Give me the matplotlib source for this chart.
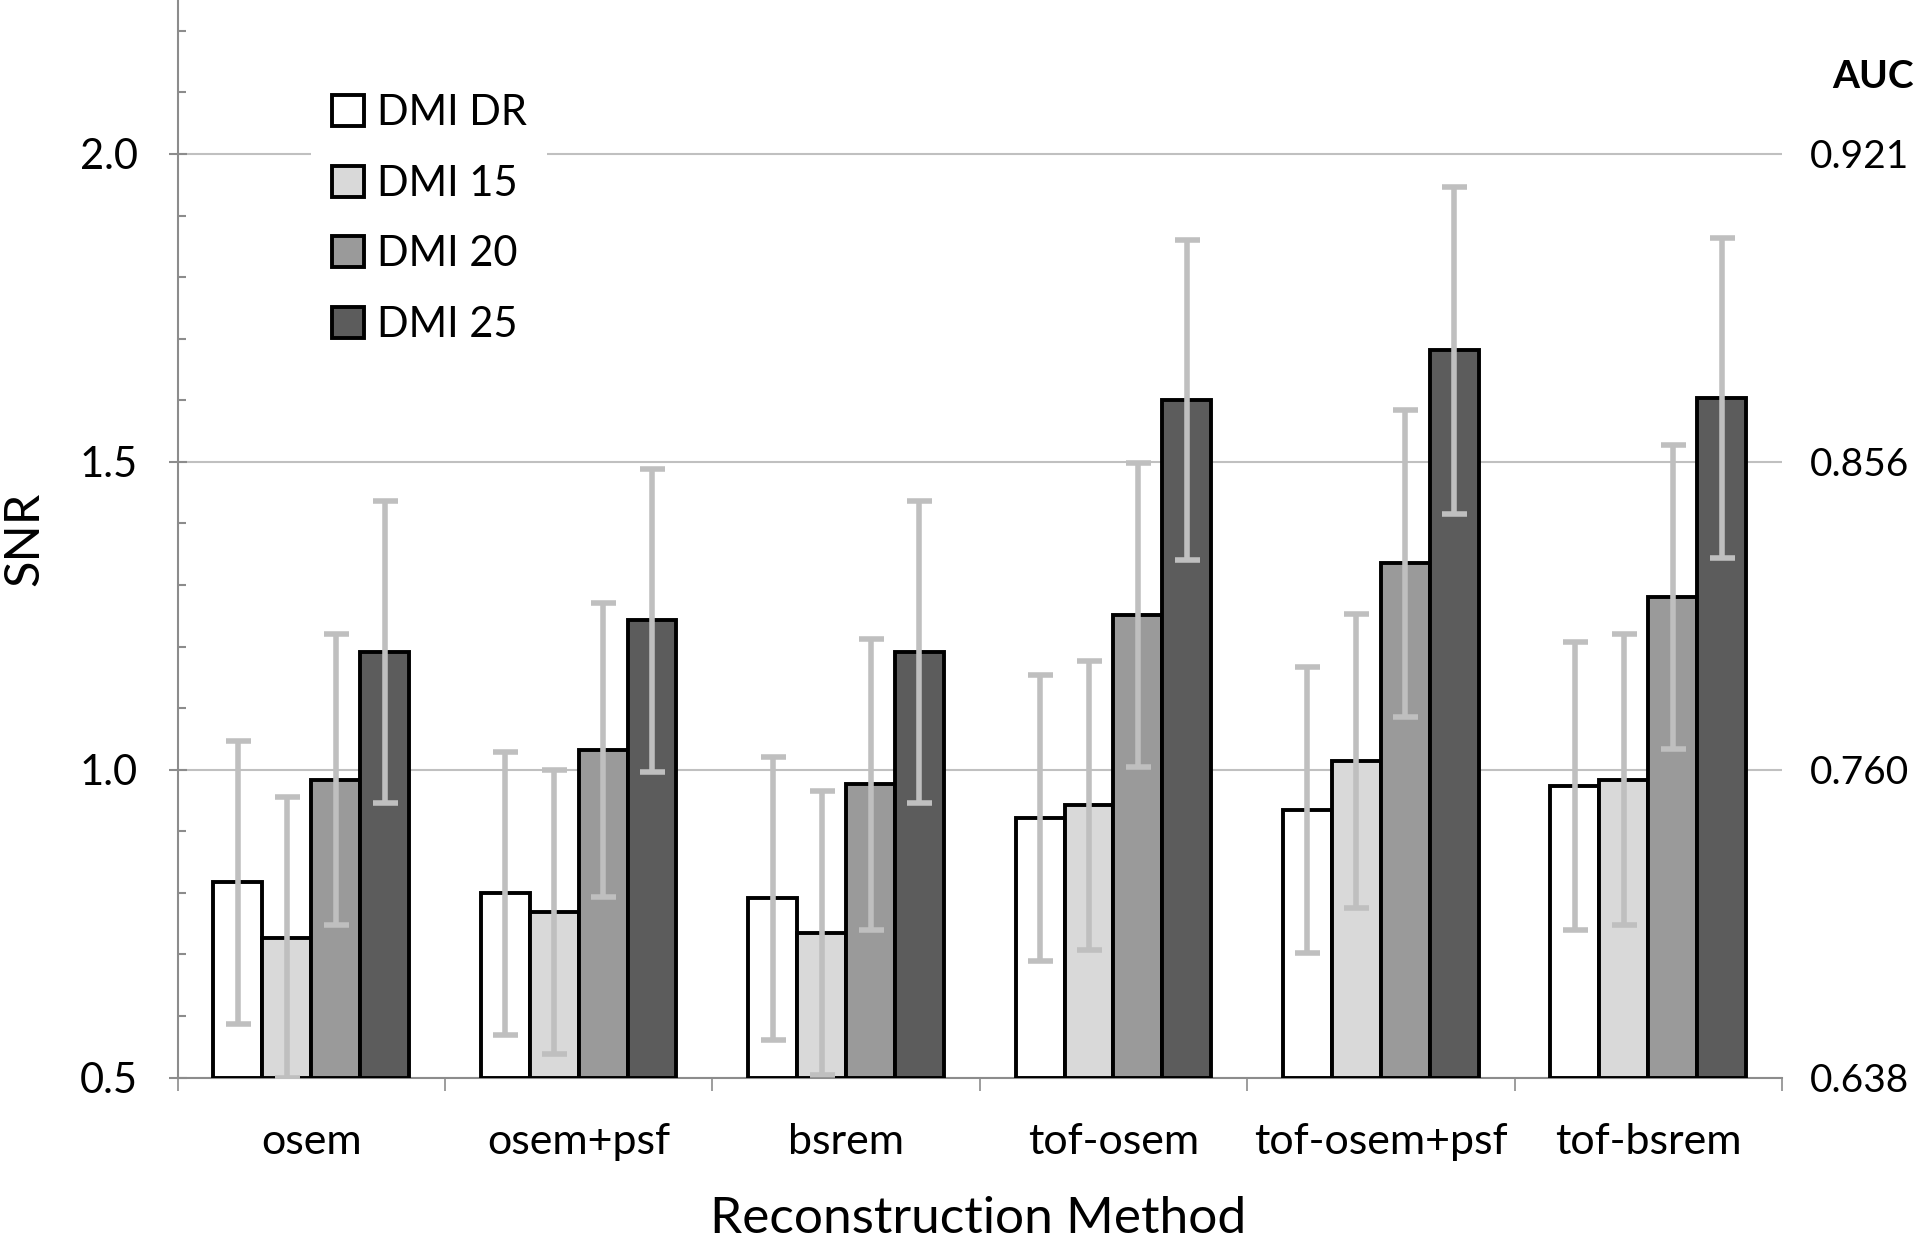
import matplotlib.pyplot as plt
import numpy as np
from matplotlib.ticker import MultipleLocator, FixedLocator

methods = ['osem', 'osem+psf', 'bsrem', 'tof-osem', 'tof-osem+psf', 'tof-bsrem']
series = ['DMI DR', 'DMI 15', 'DMI 20', 'DMI 25']

# SNR mean per method, one list per scanner setting
snr_dr = [0.817, 0.799, 0.791, 0.922, 0.934, 0.974]
snr_15 = [0.727, 0.769, 0.735, 0.942, 1.014, 0.984]
snr_20 = [0.984, 1.032, 0.976, 1.251, 1.335, 1.281]
snr_25 = [1.191, 1.243, 1.191, 1.600, 1.681, 1.604]

# error bar half-lengths
err_dr = [0.230, 0.230, 0.230, 0.232, 0.232, 0.234]
err_15 = [0.228, 0.231, 0.230, 0.235, 0.239, 0.236]
err_20 = [0.236, 0.238, 0.236, 0.247, 0.249, 0.247]
err_25 = [0.245, 0.246, 0.245, 0.260, 0.265, 0.260]

auc_ticks = [0.5, 1.0, 1.5, 2.0]
auc_labels = ['0.638', '0.760', '0.856', '0.921']

colors = ['#ffffff', '#d9d9d9', '#9a9a9a', '#5c5c5c']
err_color = '#bfbfbf'

plt.rcParams['font.family'] = ['Lato', 'DejaVu Sans']

fig = plt.figure(figsize=(19.2, 12.39), dpi=100)
ax = fig.add_axes([177.5 / 1920, 1 - 1077.6 / 1239, (1782 - 177.5) / 1920, 1077.6 / 1239])

x = np.arange(len(methods))
w = 0.183
vals = [snr_dr, snr_15, snr_20, snr_25]
errs = [err_dr, err_15, err_20, err_25]
for i in range(4):
    pos = x + (i - 1.5) * w
    ax.bar(pos, np.array(vals[i]) - 0.5, w, bottom=0.5, color=colors[i],
           edgecolor='black', linewidth=2.8, label=series[i], zorder=3)
    ax.errorbar(pos, vals[i], yerr=errs[i], fmt='none', ecolor=err_color,
                elinewidth=4, capsize=9, capthick=4, zorder=4)

ax.set_xlim(-0.5, 5.5)
ax.set_ylim(0.5, 2.25)

# y axis
ax.yaxis.set_major_locator(FixedLocator([0.5, 1.0, 1.5, 2.0]))
ax.yaxis.set_minor_locator(MultipleLocator(0.1))
ax.set_yticklabels(['0.5', '1.0', '1.5', '2.0'])
ax.tick_params(axis='y', which='major', direction='inout', length=13, width=1.5,
               color='#8c8c8c', labelsize=30, pad=22)
ax.tick_params(axis='y', which='minor', direction='in', length=6, width=1.5, color='#8c8c8c')
ax.grid(axis='y', which='major', color='#c0c0c0', linewidth=1.5, zorder=0)

# x axis: boundary ticks, labels at group centres
ax.xaxis.set_major_locator(FixedLocator(np.arange(-0.5, 6, 1.0)))
ax.xaxis.set_major_formatter(plt.NullFormatter())
ax.xaxis.set_minor_locator(FixedLocator(x))
ax.set_xticklabels(methods, minor=True)
ax.tick_params(axis='x', which='major', direction='out', length=9, width=1.2, color='#8c8c8c')
ax.tick_params(axis='x', which='minor', length=0, labelsize=31, pad=33)

for s in ['top', 'right']:
    ax.spines[s].set_visible(False)
for s in ['left', 'bottom']:
    ax.spines[s].set_color('#8c8c8c')
    ax.spines[s].set_linewidth(1.5)

ax.set_xlabel('Reconstruction Method', fontsize=37)
ax.xaxis.set_label_coords(0.499, -0.110)
ax.set_ylabel('SNR', fontsize=35)
ax.yaxis.set_label_coords(-0.082, 0.5)

# AUC labels on the right
ax2 = ax.twinx()
ax2.set_ylim(ax.get_ylim())
ax2.yaxis.set_major_locator(FixedLocator(auc_ticks))
ax2.set_yticklabels(auc_labels)
ax2.tick_params(axis='y', length=0, labelsize=28, pad=20)
for s in ax2.spines.values():
    s.set_visible(False)
fig.text(0.997, 1 - 76 / 1239, 'AUC', ha='right', va='center', fontsize=28, fontweight='bold')

leg = ax.legend(loc='center left', bbox_to_anchor=(290 / 1920, 1 - 219 / 1239),
                bbox_transform=fig.transFigure, fontsize=30, frameon=True,
                facecolor='white', edgecolor='none', framealpha=1, fancybox=False,
                handlelength=0.78, handleheight=0.78, handletextpad=0.3,
                labelspacing=0.78, borderpad=0.5)
leg.set_zorder(5)

fig.savefig('out.png', dpi=100)
